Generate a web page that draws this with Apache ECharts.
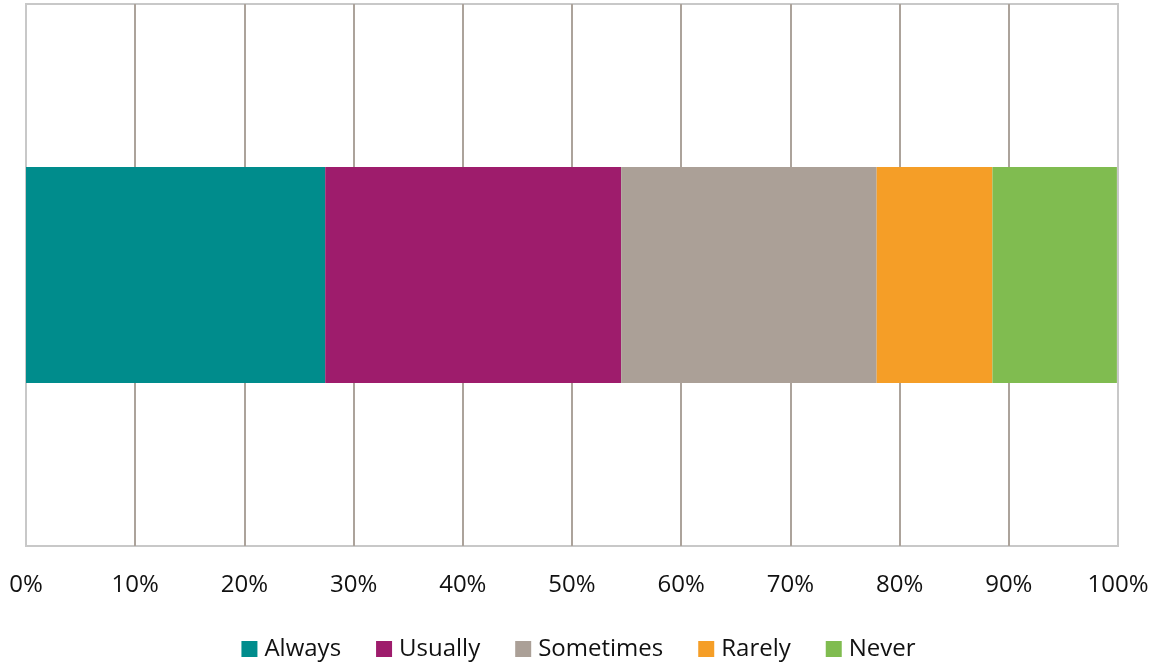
<!DOCTYPE html>
<html>
<head>
<meta charset="utf-8">
<script src="https://cdn.jsdelivr.net/npm/echarts@6/dist/echarts.min.js"></script>
<style>
  html, body { margin: 0; padding: 0; background: #fff; }
  #chart { width: 1157px; height: 665px; }
</style>
</head>
<body>
<div id="chart"></div>
<script>
// Response categories and their share of answers (percent)
const categories = ['Always', 'Usually', 'Sometimes', 'Rarely', 'Never'];
const shares = [27.4, 27.1, 23.4, 10.6, 11.4];
const colors = ['#008C8C', '#9E1C6C', '#ABA097', '#F59E27', '#80BC50'];
const rowLabels = ['All'];

// gridline colours: outer edges match the light frame, inner lines are taupe
const gridColors = ['#c8c8c8', '#ACA39B', '#ACA39B', '#ACA39B', '#ACA39B', '#ACA39B',
                    '#ACA39B', '#ACA39B', '#ACA39B', '#ACA39B', '#c8c8c8'];

const chart = echarts.init(document.getElementById('chart'));

const series = categories.map((name, i) => ({
  name: name,
  type: 'bar',
  stack: 'total',
  barWidth: 216,
  itemStyle: { color: colors[i] },
  data: [shares[i]]
}));

chart.setOption({
  animation: false,
  textStyle: { fontFamily: 'Open Sans' },
  grid: {
    left: 26, right: 39, top: 4, bottom: 119,
    show: true, borderColor: '#c8c8c8', borderWidth: 2, backgroundColor: '#fff'
  },
  legend: {
    top: 632,
    left: 'center',
    itemWidth: 16,
    itemHeight: 16,
    itemGap: 35,
    icon: 'rect',
    textStyle: { fontSize: 24, color: '#111', fontFamily: 'Open Sans', padding: [0, 0, 0, 2] },
    data: categories
  },
  xAxis: {
    type: 'value',
    min: 0, max: 100, interval: 10,
    axisLine: { show: false },
    axisTick: { show: false },
    splitLine: { show: true, lineStyle: { color: gridColors, width: 2 } },
    axisLabel: {
      fontSize: 24, color: '#111', margin: 27,
      formatter: v => v + '%'
    }
  },
  yAxis: {
    type: 'category',
    data: rowLabels,
    show: false
  },
  series: series
});
</script>
</body>
</html>
